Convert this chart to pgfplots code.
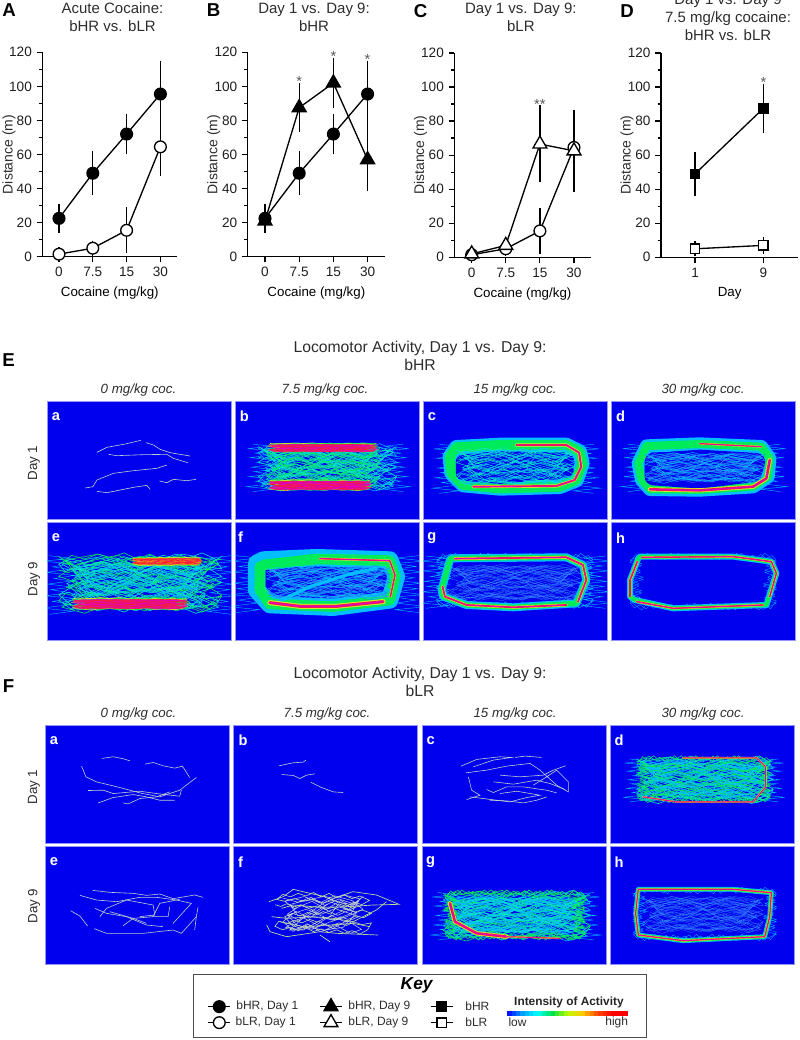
\documentclass[border=0pt]{standalone}
\usepackage{pgfplots}
\usepackage{pgfplotstable}
\pgfplotsset{compat=1.18}
\usepackage{fontspec}
\setmainfont{Liberation Sans}
\definecolor{pb}{RGB}{0,0,238}
\definecolor{pe}{RGB}{150,150,250}
\definecolor{sp}{RGB}{190,205,205}
\definecolor{spy}{RGB}{190,225,150}
\definecolor{hL}{RGB}{50,130,255}
\definecolor{hC}{RGB}{0,190,255}
\definecolor{hT}{RGB}{0,230,190}
\definecolor{hG}{RGB}{0,235,90}
\definecolor{hY}{RGB}{215,235,40}
\definecolor{hO}{RGB}{250,150,20}
\definecolor{hR}{RGB}{245,30,60}
\definecolor{hM}{RGB}{225,0,190}
\definecolor{txt}{RGB}{45,45,45}
\pgfplotstableread[row sep=\\]{x y\\0 12\\18 22\\35 10\\52 30\\70 14\\88 26\\100 8\\82 40\\60 22\\41 45\\22 30\\5 52\\20 68\\38 48\\55 62\\74 44\\95 58\\78 72\\60 55\\42 78\\24 60\\3 85\\25 92\\44 70\\62 88\\80 68\\98 90\\84 100\\66 80\\47 96\\30 76\\12 95\\0 70\\16 45\\33 62\\50 38\\68 55\\90 35\\72 18\\54 40\\36 20\\14 38\\2 20\\26 8\\46 24\\64 6\\86 18\\100 40\\80 58\\58 72\\36 90\\16 78\\6 55\\28 40\\48 52\\70 34\\92 48\\75 85\\52 92\\30 84\\8 92\\30 52\\54 20\\76 4\\96 14\\85 50\\65 66\\40 60\\18 55\\8 28\\28 18\\50 8\\72 24\\94 30\\}\ST
\pgfplotstableread[row sep=\\]{x y\\0 30\\6 34\\12 28\\20 35\\27 30\\35 38\\44 33\\52 41\\60 36\\68 44\\75 40\\83 47\\90 42\\100 50\\92 60\\84 56\\76 64\\68 58\\60 66\\52 60\\44 70\\36 64\\28 72\\20 66\\12 74\\4 68\\0 80\\8 88\\16 82\\24 90\\32 84\\40 92\\48 86\\56 94\\64 88\\72 96\\80 90\\88 98\\96 88\\100 72\\90 76\\82 70\\74 78\\66 72\\58 80\\50 74\\42 82\\34 76\\26 84\\18 78\\10 58\\18 50\\26 56\\34 48\\42 54\\50 46\\58 52\\66 28\\74 34\\82 24\\90 30\\98 20\\88 10\\80 16\\72 8\\64 14\\56 4\\48 12\\40 2\\32 10\\24 4\\16 12\\8 6\\2 18\\10 22\\20 16\\30 22\\40 18\\50 26\\60 20\\70 26\\80 38\\90 32\\}\SU
\pgfplotstableread[row sep=\\]{x y\\5 6\\9 1\\13 9\\17 3\\21 11\\25 2\\29 8\\33 0\\37 10\\41 4\\45 12\\49 2\\53 9\\57 1\\61 11\\65 3\\69 8\\73 0\\77 10\\81 4\\85 12\\89 2\\93 9\\97 4\\100 12\\93 18\\99 24\\92 30\\100 36\\94 42\\98 48\\91 54\\100 60\\93 66\\99 72\\92 78\\100 84\\96 98\\92 90\\88 100\\84 92\\80 97\\76 88\\72 100\\68 91\\64 98\\60 89\\56 100\\52 92\\48 97\\44 88\\40 100\\36 91\\32 98\\28 89\\24 100\\20 92\\16 97\\12 88\\8 100\\4 92\\0 84\\7 78\\1 72\\8 66\\0 60\\6 54\\2 48\\9 42\\0 36\\7 30\\1 24\\8 18\\0 12\\5 6\\}\SR
\pgfplotstableread[row sep=\\]{x y\\-8 5\\6 9\\-12 14\\7 18\\-6 23\\5 27\\-10 32\\8 37\\-5 42\\6 46\\-9 51\\7 56\\-7 60\\5 65\\-11 70\\8 74\\-6 79\\6 84\\-13 90\\7 95\\-8 100\\}\SW
\newcommand{\Scrib}[6]{\addplot[no marks,#2] table[x expr={#3+\thisrow{x}*(#5)/100},y expr={#4+\thisrow{y}*(#6)/100}] {#1};}
\newcommand{\Mesh}[7]{%
 \Scrib{\ST}{#5,line width=#7}{#1}{#2}{#3}{#4}%
 \Scrib{\SU}{#6,line width=#7}{#1}{#2}{#3}{#4}%
 \Scrib{\ST}{#6,line width=#7}{#1+#3}{#2}{-(#3)}{#4}%
 \Scrib{\SU}{#5,line width=#7}{#1}{#2+#4}{#3}{-(#4)}}
\newcommand{\Whisk}[5]{%
 \Scrib{\SW}{#5,line width=.3pt}{#1}{#2}{#3}{#4}%
 \Scrib{\SW}{#5,line width=.3pt}{#1+#3}{#2}{-(#3)}{#4}}
\newcommand{\Rim}[6]{%
 \Scrib{\SR}{#5,line width=#6}{#1}{#2}{#3}{#4}%
 \Scrib{\SR}{#5,line width=#6}{#1+#3}{#2+#4}{-(#3)}{-(#4)}}
\newcommand{\Lay}[3]{\addplot[no marks,#1,line width=#2,line join=round,line cap=round] coordinates {#3};}
\newcommand{\Hot}[2]{\Lay{hY}{#1pt}{#2}\Lay{hR}{0.6*#1pt}{#2}\Lay{hM}{0.28*#1pt}{#2}}
\newcommand{\Trk}[1]{\addplot[no marks,sp,line width=.45pt] coordinates {#1};}
\newcommand{\Trky}[1]{\addplot[no marks,spy,line width=.5pt] coordinates {#1};}
\newcommand{\Panel}[8]{\begin{axis}[panel,at={(#1*0.75pt,-#2*0.75pt)},xmin=#3,xmax=#4,ymin=#5,ymax=#6]#8
 \node[white,font=\fontsize{11}{11}\selectfont\bfseries] at (axis cs:#7) {\PL};\end{axis}}
\pgfplotsset{
 panel/.style={scale only axis,anchor=north west,width=138pt,height=88.5pt,y dir=reverse,ticks=none,
  axis background/.style={fill=pb},axis line style={draw=pe,line width=.5pt},enlargelimits=false},
 lineax/.style={scale only axis,anchor=south west,axis x line=bottom,axis y line=left,axis line style={-,line width=.9pt},
  ymin=0,ymax=120,ytick={0,20,...,120},minor y tick num=1,clip=false,height=153.3pt,
  tick style={black,line width=.9pt},tick align=outside,major tick length=4.3pt,minor tick length=2.6pt,
  /pgf/number format/assume math mode=true,
  ticklabel style={font=\fontsize{10.2}{12}\selectfont,text=black!88},
  xtick pos=bottom,ytick pos=left,
  xlabel style={font=\fontsize{11.25}{13}\selectfont,text=txt},
  every axis x label/.style={at={(axis description cs:0.5,-0.178)},anchor=center},
  every axis y label/.style={at={(axis description cs:-0.247,0.5)},anchor=center,rotate=90,font=\fontsize{10.5}{13}\selectfont,text=txt},
  ylabel={Distance (m)},
  title style={font=\fontsize{11.25}{13.5}\selectfont,text=txt,align=center,anchor=center},
  xlabel={Cocaine (mg/kg)},xtick={0,1,2,3},xticklabels={0,7.5,15,30}},
 pl/.style={black,line width=1pt,error bars/y dir=both,error bars/y explicit,
  error bars/error mark options={mark size=4.4pt,line width=1pt,black,solid},error bars/error bar style={line width=1pt,black}},
 hrc/.style={pl,mark=*,mark size=4.4pt,mark options={fill=black,solid}},
 lrc/.style={pl,mark=*,mark size=4.4pt,mark options={fill=white,solid}},
 hrt/.style={pl,mark=triangle*,mark size=6pt,mark options={fill=black,solid}},
 lrt/.style={pl,mark=triangle*,mark size=6pt,mark options={fill=white,solid}},
 hrs/.style={pl,mark=square*,mark size=3.5pt,mark options={fill=black,solid}},
 lrs/.style={pl,mark=square*,mark size=3.5pt,mark options={fill=white,solid}},
 colormap={heat}{rgb255=(0,0,255) rgb255=(0,160,255) rgb255=(0,255,255) rgb255=(0,225,70) rgb255=(190,250,0) rgb255=(255,200,0) rgb255=(255,70,0) rgb255=(255,0,0) rgb255=(255,0,0)}
}
\newcommand{\AST}[2]{\node[font=\fontsize{11}{11}\selectfont,text=black!65] at (axis cs:#1) {#2};}
\begin{document}
\begin{tikzpicture}[x=0.75pt,y=-0.75pt]
\path[use as bounding box] (0,0) rectangle (800,1040);
% ---------- panel A
\begin{axis}[lineax,at={(42.3*0.75pt,-256.7*0.75pt)},width=101.25pt,xmin=-0.494,xmax=3.5,title={Acute Cocaine:\\bHR vs. bLR},title style={at={(axis description cs:0.52,1.133)}}]
\addplot+[hrc] coordinates {(0,22.5) += (0,5) -= (0,5) (1,49) += (0,9.5) -= (0,9.5) (2,72) += (0,8.5) -= (0,8.5) (3,95.5) += (0,16) -= (0,15.5)};
\addplot+[lrc] coordinates {(0,1.5) += (0,0.5) -= (0,0.5) (1,5) += (0,1) -= (0,1) (2,15.5) += (0,10) -= (0,10) (3,64.5) += (0,13) -= (0,13.5)};
\end{axis}
% ---------- panel B
\begin{axis}[lineax,at={(247.7*0.75pt,-256.7*0.75pt)},width=103pt,xmin=-0.506,xmax=3.51,title={Day 1 vs. Day 9:\\bHR},title style={at={(axis description cs:0.483,1.133)}}]
\addplot+[hrt] coordinates {(0,21) += (0,3) -= (0,3) (1,87.5) += (0,11) -= (0,11) (2,102) += (0,11.5) -= (0,11) (3,57) += (0,16) -= (0,15)};
\addplot+[hrc] coordinates {(0,22.5) += (0,5) -= (0,5) (1,49) += (0,9.5) -= (0,9.5) (2,72) += (0,8.5) -= (0,8.5) (3,95.5) += (0,16) -= (0,15.5)};
\AST{1,103}{*}\AST{2,117.6}{*}\AST{3,115.7}{*}
\end{axis}
% ---------- panel C
\begin{axis}[lineax,at={(454.3*0.75pt,-257.3*0.75pt)},width=102.3pt,xmin=-0.51,xmax=3.49,title={Day 1 vs. Day 9:\\bLR},title style={at={(axis description cs:0.488,1.133)}}]
\addplot+[lrc] coordinates {(0,1.5) += (0,0.5) -= (0,0.5) (1,5) += (0,1) -= (0,1) (2,15.5) += (0,10) -= (0,10) (3,64.5) += (0,13) -= (0,13.5)};
\addplot+[lrt] coordinates {(0,2) += (0,1) -= (0,1) (1,7) += (0,1.5) -= (0,1.5) (2,66.5) += (0,19.5) -= (0,19) (3,62.5) += (0,20.5) -= (0,21)};
\AST{2,90}{**}
\end{axis}
% ---------- panel D
\begin{axis}[lineax,at={(661*0.75pt,-257.3*0.75pt)},width=103pt,xmin=-0.498,xmax=1.51,xtick={0,1},xticklabels={1,9},xlabel={Day},title={Day 1 vs. Day 9\\7.5 mg/kg cocaine:\\bHR vs. bLR},title style={at={(axis description cs:0.488,1.133)}}]
\addplot+[hrs] coordinates {(0,49) += (0,9.5) -= (0,9.5) (1,87.5) += (0,11) -= (0,11)};
\addplot+[lrs] coordinates {(0,5) += (0,1) -= (0,1) (1,7) += (0,1.5) -= (0,1.5)};
\AST{1,102.7}{*}
\end{axis}
% ---------- text
\def\BL#1#2#3{\node[font=\fontsize{14}{14}\selectfont\bfseries,anchor=center] at (#1,#2) {#3};}
\BL{9}{10}{A}\BL{213.5}{10}{B}\BL{420.5}{11.5}{C}\BL{627}{11.5}{D}\BL{8.5}{360}{E}\BL{8.5}{686}{F}
\def\BT#1#2{\node[font=\fontsize{11.8}{13.5}\selectfont,text=txt,align=center,anchor=center] at (420,#1) {Locomotor Activity, Day 1 vs. Day 9:\\#2};}
\BT{356}{bHR}\BT{682}{bLR}
\def\CL#1#2#3{\node[font=\fontsize{10}{12}\selectfont\itshape,text=txt,anchor=center] at (#1,#2) {#3};}
\CL{138.5}{390}{0 mg/kg coc.}\CL{325}{390}{7.5 mg/kg coc.}\CL{515}{390}{15 mg/kg coc.}\CL{703}{390}{30 mg/kg coc.}
\CL{138.5}{714}{0 mg/kg coc.}\CL{327}{714}{7.5 mg/kg coc.}\CL{515}{714}{15 mg/kg coc.}\CL{703}{714}{30 mg/kg coc.}
\def\RL#1#2{\node[font=\fontsize{10}{12}\selectfont,text=txt,anchor=center,rotate=90] at (34,#1) {#2};}
\RL{463}{Day 1}\RL{579}{Day 9}\RL{787}{Day 1}\RL{906}{Day 9}
% ---------- E panels
\def\PL{a}\Panel{47}{401}{140}{693}{213}{567}{167,259}{%
\Trk{(290,367)(320,352)(375,342)(422,331)}
\Trk{(438,338)(460,345)(480,358)(510,368)(570,378)}
\Trk{(325,373)(350,377)(430,374)(500,373)(520,385)(563,398)}
\Trk{(255,474)(278,470)(290,450)(340,430)(400,422)(470,415)(500,405)}
\Trk{(478,453)(500,458)(520,448)(560,452)(588,448)}
\Trk{(290,484)(320,488)(400,472)(440,466)(450,478)}}
\def\PL{b}\Panel{235}{401}{705}{1258}{213}{567}{733,259}{%
\Whisk{790}{335}{390}{150}{hC}
\Mesh{775}{338}{415}{145}{hC}{hT}{.4pt}
\Mesh{800}{345}{340}{130}{hG}{hT}{.4pt}
\Mesh{810}{338}{320}{28}{hG}{hY}{.45pt}
\Mesh{810}{342}{320}{24}{hR}{hM}{.35pt}
\Mesh{810}{448}{300}{34}{hG}{hY}{.45pt}
\Mesh{810}{452}{300}{28}{hM}{hR}{.45pt}}
\def\PL{c}\Panel{423.3}{401}{70}{623}{213}{567}{96,260}{%
\Whisk{150}{335}{400}{155}{hC}
\Lay{hC}{11pt}{(170,352)(300,345)(500,345)(540,365)(548,400)(530,450)(480,470)(300,475)(190,465)(155,430)(150,380)(170,352)}
\Lay{hG}{7.5pt}{(170,352)(300,345)(500,345)(540,365)(548,400)(530,450)(480,470)(300,475)(190,465)(155,430)(150,380)(170,352)}
\Lay{pb}{11pt}{(190,395)(300,385)(490,390)(500,420)(300,440)(190,430)(190,395)}
\Mesh{170}{350}{355}{120}{hC}{hT}{.35pt}
\Hot{2.4}{(350,345)(500,345)(538,368)(545,410)(525,450)(470,468)(220,470)}}
\def\PL{d}\Panel{611.7}{401}{635}{1188}{213}{567}{662,260}{%
\Whisk{715}{335}{395}{150}{hC}
\Lay{hC}{10pt}{(740,348)(900,342)(1085,350)(1110,385)(1105,440)(1060,470)(900,480)(750,478)(725,450)(715,400)(740,348)}
\Lay{hG}{6pt}{(740,348)(900,342)(1085,350)(1110,385)(1105,440)(1060,470)(900,480)(750,478)(725,450)(715,400)(740,348)}
\Lay{pb}{13pt}{(760,395)(900,385)(1070,395)(1060,430)(900,450)(760,440)(760,395)}
\Mesh{735}{365}{360}{95}{hL}{hC}{.3pt}
\Hot{1.5}{(900,341)(1085,350)}
\Hot{3.2}{(750,478)(900,481)(1060,470)(1100,445)(1110,390)}}
\def\PL{e}\Panel{47}{522.3}{140}{693}{577}{931}{167,623}{%
\Whisk{185}{668}{470}{185}{hC}
\Mesh{175}{665}{490}{185}{hT}{hG}{.45pt}
\Mesh{215}{690}{400}{150}{hC}{hT}{.4pt}
\Mesh{220}{802}{340}{38}{hG}{hY}{.5pt}
\Mesh{220}{807}{340}{30}{hR}{hM}{.45pt}
\Mesh{400}{680}{200}{28}{hY}{hG}{.45pt}
\Mesh{400}{684}{200}{20}{hR}{hO}{.4pt}}
\def\PL{f}\Panel{235}{522.3}{705}{1258}{577}{931}{722,623}{%
\Whisk{745}{668}{475}{180}{hC}
\Lay{hC}{13pt}{(790,690)(950,683)(1170,690)(1190,740)(1170,810)(1000,832)(810,824)(770,780)(770,700)(790,690)}
\Lay{hG}{8pt}{(790,705)(950,687)(1170,692)(1186,740)(1170,810)(1000,830)(810,822)(780,780)(780,710)}
\Mesh{800}{705}{370}{105}{hL}{hC}{.35pt}
\Lay{hC}{2.5pt}{(835,815)(930,770)(1040,735)(1130,715)}
\Hot{3.8}{(810,818)(900,829)(1010,829)(1150,815)}
\Hot{1.8}{(960,686)(1170,692)(1186,735)(1172,800)}}
\def\PL{g}\Panel{423.3}{522.3}{70}{623}{577}{931}{96,624}{%
\Whisk{115}{670}{465}{165}{hC}
\Mesh{150}{700}{390}{115}{hL}{hL}{.22pt}
\Rim{110}{670}{470}{165}{hC}{.3pt}
\Lay{hC}{6pt}{(155,685)(500,682)(550,705)(560,750)(530,820)(340,832)(200,825)(130,800)(125,780)(150,690)(155,685)}
\Lay{hG}{4pt}{(155,685)(500,682)(550,705)(560,750)(530,820)(340,832)(200,825)(130,800)(125,780)(150,690)(155,685)}
\Hot{2.2}{(165,686)(500,682)(550,705)(560,750)(535,815)}
\Hot{2.2}{(500,825)(340,832)(200,825)(135,800)(128,770)}}
\def\PL{h}\Panel{611.7}{522.3}{635}{1188}{577}{931}{662,624}{%
\Rim{690}{670}{440}{170}{hC}{.2pt}
\Lay{hC}{4.5pt}{(720,680)(1000,680)(1115,695)(1130,730)(1100,825)(820,835)(705,810)(690,800)(690,750)(715,685)(720,680)}
\Lay{hG}{3pt}{(720,680)(1000,680)(1115,695)(1130,730)(1100,825)(820,835)(705,810)(690,800)(690,750)(715,685)(720,680)}
\Hot{1.8}{(725,682)(1000,680)(1115,695)(1130,730)(1110,800)}
\Hot{1.8}{(1090,825)(820,835)(710,815)}
\Hot{2}{(690,800)(690,750)(712,695)}}
% ---------- F panels
\def\PL{a}\Panel{45.3}{725}{136}{689}{195}{548}{162,242}{%
\Trk{(306,295)(340,290)(370,296)(390,302)}
\Trk{(436,312)(460,307)(490,317)(525,324)(548,318)(570,352)}
\Trk{(245,318)(258,350)(290,365)(360,382)(420,398)(480,410)(540,390)(590,352)}
\Trk{(265,391)(310,390)(340,400)(420,393)(470,400)(540,408)(545,390)}
\Trk{(295,428)(340,412)(400,403)(440,410)(480,420)(525,420)}
\Trk{(370,428)(385,431)(420,415)(470,410)(510,395)}}
\def\PL{b}\Panel{233.7}{725}{701}{1254}{195}{548}{729,242}{%
\Trk{(837,317)(880,308)(910,306)(918,300)}
\Trk{(845,343)(880,346)(900,355)(920,345)(945,341)}
\Trk{(932,366)(960,380)(1000,395)(1030,397)}}
\def\PL{c}\Panel{422}{725}{66}{618}{195}{548}{92,242}{%
\Trk{(183,318)(230,298)(300,290)(335,292)(280,300)(220,320)}
\Trk{(345,292)(375,288)(425,292)}
\Trk{(198,338)(260,330)(320,318)(390,310)(420,330)(470,375)(505,395)(505,365)(470,330)(440,350)(400,375)}
\Trk{(205,350)(215,390)(240,405)(200,418)}
\Trk{(497,317)(460,330)(430,345)(360,350)(300,345)}
\Trk{(280,365)(340,372)(410,360)(450,370)(495,388)}
\Trk{(260,388)(280,397)(320,380)(370,380)(440,390)(470,398)}
\Trk{(300,400)(350,393)(420,405)(380,412)(330,425)(250,415)(210,410)}
\Trk{(270,420)(320,422)(370,428)(410,420)(440,410)}}
\def\PL{d}\Panel{610}{725}{630}{1183}{195}{548}{657,242}{%
\Whisk{720}{290}{385}{135}{hC}
\Mesh{710}{285}{410}{145}{hC}{hT}{.45pt}
\Mesh{725}{300}{370}{115}{hG}{hC}{.45pt}
\Rim{712}{287}{400}{140}{hG}{.4pt}
\Hot{1.2}{(850,293)(1070,293)(1098,320)(1098,380)(1060,425)(830,425)(730,410)}}
\def\PL{e}\Panel{45.3}{846}{136}{689}{558}{912}{162,606}{%
\Trk{(278,691)(330,697)(400,700)(440,706)(480,702)(520,716)(585,705)(610,712)}
\Trk{(240,706)(290,720)(350,725)(420,712)(470,712)(530,720)(575,730)(520,790)}
\Trk{(212,752)(240,768)(263,798)}
\Trk{(285,745)(320,760)(380,770)(440,795)(490,800)}
\Trk{(300,770)(320,745)(380,720)(460,735)(465,765)(420,770)}
\Trk{(460,770)(480,730)(540,718)}
\Trk{(330,755)(400,775)(460,770)(505,770)(510,740)}
\Trk{(370,797)(400,775)(440,790)}
\Trk{(283,806)(320,820)(430,820)(520,810)(545,820)(590,770)(595,742)}
\Trk{(590,770)(585,810)}}
\def\PL{f}\Panel{233.7}{846}{701}{1254}{558}{912}{722,606}{%
\Trky{(807,725)(850,710)(880,688)(930,700)(1000,715)(1060,695)(1130,705)(1198,733)(1120,735)(1040,740)(960,742)(880,735)(845,745)}
\Trky{(815,770)(860,775)(940,770)(1000,775)(1060,785)(1130,750)(1160,725)}
\Trky{(800,795)(810,815)(860,830)(960,815)(1010,820)(1135,825)}
\Trky{(840,785)(910,800)(990,795)(1060,790)(1110,800)}
\Trky{(960,825)(990,845)}
\Scrib{\SU}{spy,line width=.45pt}{825}{695}{290}{130}
\Scrib{\ST}{sp,line width=.4pt}{850}{700}{240}{120}}
\def\PL{g}\Panel{422}{846}{66}{618}{558}{912}{92,606}{%
\Whisk{145}{690}{405}{150}{hC}
\Mesh{130}{688}{440}{155}{hC}{hG}{.45pt}
\Mesh{150}{705}{390}{120}{hT}{hC}{.45pt}
\Rim{135}{690}{420}{150}{hG}{.5pt}
\Hot{3.2}{(150,730)(165,785)(230,820)(320,830)}
\Hot{1.2}{(320,830)(480,835)}}
\def\PL{h}\Panel{610}{846}{630}{1183}{558}{912}{657,606}{%
\Mesh{730}{705}{360}{115}{hL}{hL}{.2pt}
\Rim{700}{682}{430}{160}{hC}{.25pt}
\Lay{hC}{3.6pt}{(715,688)(1000,688)(1115,698)(1110,770)(1095,830)(850,842)(715,825)(707,760)(715,688)}
\Lay{hG}{2.6pt}{(715,688)(1000,688)(1115,698)(1110,770)(1095,830)(850,842)(715,825)(707,760)(715,688)}
\Hot{1.5}{(715,688)(1000,688)(1115,698)(1110,770)(1095,830)(850,842)(715,825)(707,760)(715,688)}}
% ---------- key
\begin{axis}[scale only axis,anchor=north west,at={(193.3*0.75pt,-974.3*0.75pt)},width=340pt,height=47.5pt,xmin=130,xmax=1490,ymin=28,ymax=218,y dir=reverse,ticks=none,
 axis line style={draw=black!70,line width=1.1pt},clip=false,colormap name=heat,point meta min=1072,point meta max=1435,
 nodes={font=\fontsize{9}{10}\selectfont,text=txt}]
\node[font=\fontsize{13}{14}\selectfont\bfseries\itshape,text=black] at (axis cs:800,62) {Key};
\addplot[hrc,mark indices={2}] coordinates {(175,125)(208,125)(240,125)};
\addplot[lrc,mark indices={2}] coordinates {(175,173)(208,173)(240,173)};
\addplot[hrt,mark indices={2}] coordinates {(510,125)(543,125)(575,125)};
\addplot[lrt,mark indices={2}] coordinates {(510,173)(543,173)(575,173)};
\addplot[hrs,mark indices={2}] coordinates {(843,125)(875,125)(908,125)};
\addplot[lrs,mark indices={2}] coordinates {(843,173)(875,173)(908,173)};
\node[anchor=west] at (axis cs:245,125) {bHR, Day 1};
\node[anchor=west] at (axis cs:243,173) {bLR, Day 1};
\node[anchor=west] at (axis cs:581,125) {bHR, Day 9};
\node[anchor=west] at (axis cs:581,173) {bLR, Day 9};
\node[anchor=west] at (axis cs:932,125) {bHR};
\node[anchor=west] at (axis cs:932,173) {bLR};
\node[font=\fontsize{8.9}{10}\selectfont\bfseries,text=black!85] at (axis cs:1257,113) {Intensity of Activity};
\node[anchor=west,inner sep=0pt] at (axis cs:1075,173) {low};
\node[anchor=east,inner sep=0pt] at (axis cs:1435,173) {high};
\addplot[mesh,no marks,point meta=x,line width=4.25pt] coordinates {(1072,146)(1085,146)(1098,146)(1111,146)(1124,146)(1137,146)(1150,146)(1163,146)(1176,146)(1189,146)(1202,146)(1215,146)(1228,146)(1241,146)(1254,146)(1267,146)(1280,146)(1293,146)(1306,146)(1319,146)(1332,146)(1345,146)(1358,146)(1371,146)(1384,146)(1397,146)(1410,146)(1423,146)(1435,146)};
\end{axis}
\end{tikzpicture}
\end{document}
